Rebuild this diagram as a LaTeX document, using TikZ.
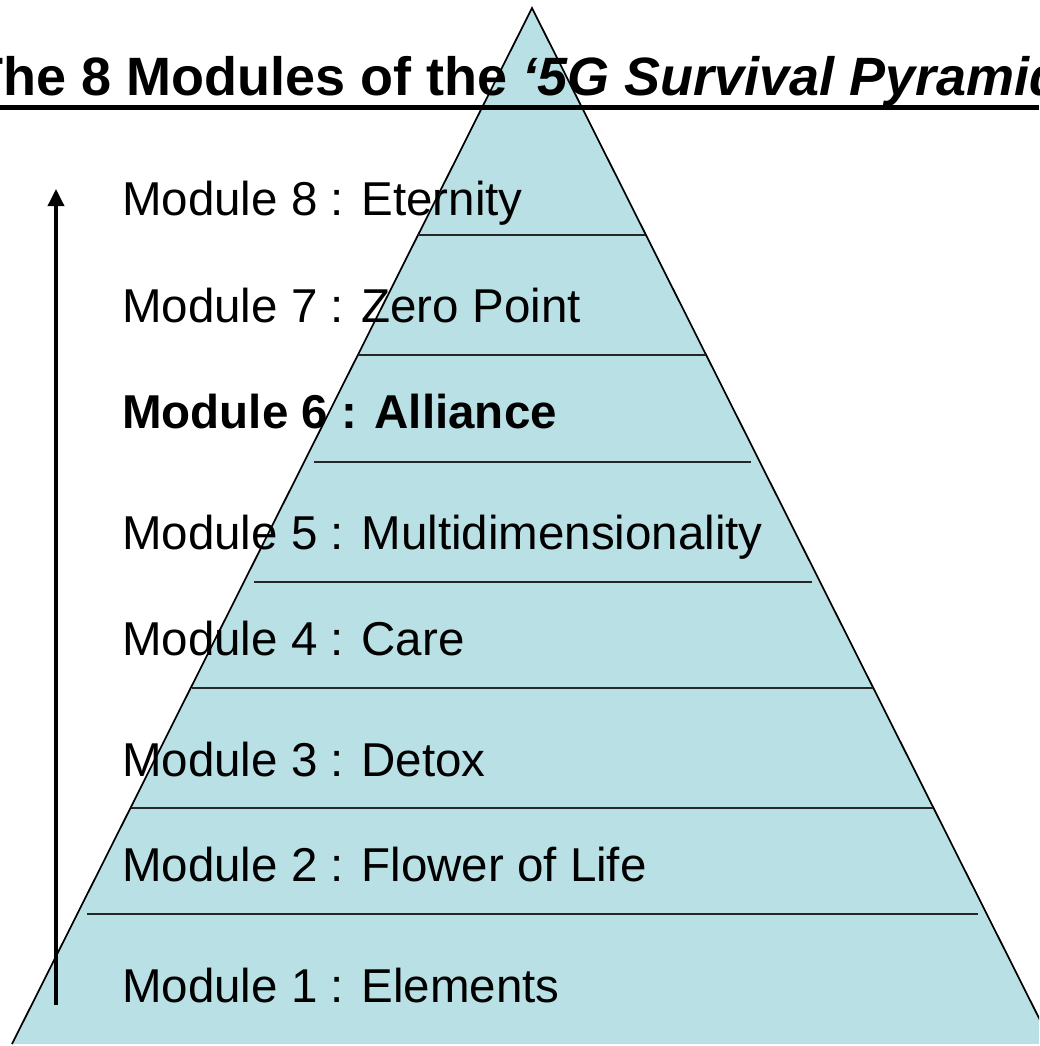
\documentclass[tikz,border=0pt]{standalone}
\usepackage{fontspec}
\setmainfont{Liberation Sans}
\usetikzlibrary{arrows.meta}
\definecolor{pyr}{RGB}{185,224,228}
\begin{document}
\begin{tikzpicture}[x=1pt,y=-1pt,
  lab/.style={anchor=base west, inner sep=0pt, font=\fontsize{47.5}{57}\selectfont},
  tier/.style={line width=1.9pt, draw=black!85},
  edge/.style={line width=1.7pt, draw=black}]
\useasboundingbox (0,0) rectangle (1039,1046);
\clip (0,0) rectangle (1039,1046);
\coordinate (apex) at (532,8);
\coordinate (bl) at (12,1044);
\coordinate (br) at (1052,1044);
\fill[pyr] (apex) -- (bl) -- (br) -- cycle;
\draw[edge] (bl) -- (apex) -- (br);
\foreach \y/\xl/\xr in {235/418/645,355/358/706,462/314/751,582/254/812,688/192/873,808/131/933,914/87/978} {
  \draw[tier] (\xl,\y) -- (\xr,\y);
}
\node[anchor=base west, inner sep=0pt, font=\fontsize{54}{62}\selectfont\bfseries] (title) at (-30,96) {The 8 Modules of the \textit{‘5G Survival Pyramid}};
\coordinate (ul1) at (0,107.5);
\coordinate (ul2) at (1039,107.5);
\draw[line width=5pt] (ul1) -- (ul2);
\node[lab] (m8) at (122,215) {Module 8 : Eternity};
\node[lab] (m7) at (122,322) {Module 7 : Zero Point};
\node[lab,font=\fontsize{47.5}{57}\selectfont\bfseries] (m6) at (122,428) {Module 6 : Alliance};
\node[lab] (m5) at (122,549) {Module 5 : Multidimensionality};
\node[lab] (m4) at (122,655) {Module 4 : Care};
\node[lab] (m3) at (122,776) {Module 3 : Detox};
\node[lab] (m2) at (122,881) {Module 2 : Flower of Life};
\node[lab] (m1) at (122,1002) {Module 1 : Elements};
\coordinate (abot) at (56,1005);
\coordinate (atop) at (56,189);
\draw[line width=3.5pt, -{Triangle[length=17pt,width=16pt]}] (abot) -- (atop);
\end{tikzpicture}
\end{document}
